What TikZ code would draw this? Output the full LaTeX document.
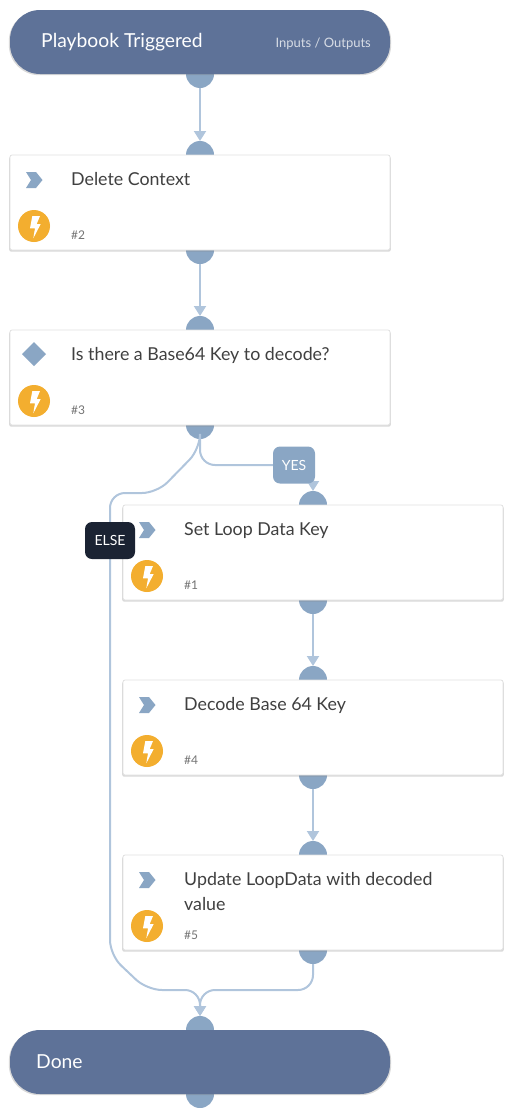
\documentclass[tikz,border=0pt]{standalone}
\usepackage{fontspec}
\setmainfont{Lato}
\usetikzlibrary{positioning,arrows.meta,shadows,backgrounds}

\definecolor{headblue}{RGB}{94,114,152}
\definecolor{portblue}{RGB}{138,166,196}
\definecolor{flowblue}{RGB}{176,197,220}
\definecolor{boltorange}{RGB}{243,174,47}
\definecolor{elsedark}{RGB}{27,35,51}
\definecolor{bodytext}{RGB}{64,64,64}

\tikzset{
  headbox/.style={fill=headblue,rounded corners=30pt,minimum width=380pt,minimum height=64pt,
    inner sep=0pt,outer sep=0pt,drop shadow={shadow xshift=0pt,shadow yshift=-1pt,shadow scale=1.006,opacity=.3}},
  taskbox/.style={fill=white,draw=black!12,line width=.8pt,rounded corners=2pt,minimum width=380pt,minimum height=95pt,
    inner sep=0pt,outer sep=0pt,drop shadow={shadow xshift=0pt,shadow yshift=-1.5pt,shadow scale=1.004,opacity=.3}},
  port/.style={circle,fill=portblue,minimum size=28pt,inner sep=0pt,outer sep=0pt},
  flow/.style={draw=flowblue,line width=2pt,-{Triangle[length=10pt,width=12pt,fill=flowblue]}},
  tasklabel/.style={anchor=base west,inner sep=0pt,text=bodytext,font=\fontsize{17.8}{25}\selectfont,align=left},
  numlabel/.style={anchor=base west,inner sep=0pt,text=black!55,font=\fontsize{12}{14}\selectfont},
  headlabel/.style={anchor=base west,inner sep=0pt,text=white,font=\fontsize{19.3}{22}\selectfont},
  boltmark/.style={circle,fill=boltorange,minimum size=32pt,inner sep=0pt},
  branch/.style={rounded corners=7pt,minimum height=37pt,inner sep=0pt,text=white,font=\fontsize{14}{16}\selectfont},
  pics/chevron/.style={code={\fill[portblue] (-8,-8) -- (2,-8) -- (8.5,0) -- (2,8) -- (-8,8) -- (-3,0) -- cycle;}},
  pics/bolt/.style={code={\fill[white] (-1.7,-10) -- (6,-10) -- (2.7,-2) -- (6.7,-2) -- (-.7,12.3) -- (1,2.3) -- (-4,2.3) -- cycle;}}
}

\begin{document}
\begin{tikzpicture}[x=1pt,y=-1pt]
  \useasboundingbox (0,0) rectangle (513,1119);

  % boxes
  \node[headbox] (start) at (200,42) {};
  \node[taskbox,below=81pt of start] (del) {};
  \node[taskbox,below=80pt of del] (cond) {};
  \node[taskbox,anchor=north west] (set) at (123,505) {};
  \node[taskbox,below=80pt of set] (dec) {};
  \node[taskbox,below=80pt of dec] (upd) {};
  \node[headbox,below=80pt of upd.south -| start] (done) {};

  % ports go behind the boxes
  \begin{scope}[on background layer]
    \foreach \name in {start,del,cond,set,dec,upd,done} {
      \node[port] (\name-out) at (\name.south) {};
    }
    \foreach \name in {del,cond,set,dec,upd,done} {
      \node[port] (\name-in) at (\name.north) {};
    }
  \end{scope}

  % texts and icons
  \node[headlabel] (starttext) at (41,47) {Playbook Triggered};
  \node[anchor=base east,inner sep=0pt,text=white!75!headblue,font=\fontsize{13}{15}\selectfont] (iotext) at (371,47) {Inputs / Outputs};
  \node[headlabel] (donetext) at (36,1068) {Done};

  \foreach \name/\num in {del/2,cond/3,set/1,dec/4,upd/5} {
    \node[boltmark] (bolt-\name) at ([shift={(24,71)}]\name.north west) {};
    \pic at (bolt-\name.center) {bolt};
    \node[numlabel] (num-\name) at ([shift={(61,84)}]\name.north west) {\#\num};
  }
  \foreach \name in {del,set,dec,upd} {
    \pic at ([shift={(24,25)}]\name.north west) {chevron};
  }
  \fill[portblue] ([shift={(24,12)}]cond.north west) -- ++(12,12) -- ++(-12,12) -- ++(-12,-12) -- cycle;

  \node[tasklabel] (deltext) at ([shift={(61,30)}]del.north west) {Delete Context};
  \node[tasklabel] (condtext) at ([shift={(61,30)}]cond.north west) {Is there a Base64 Key to decode?};
  \node[tasklabel] (settext) at ([shift={(61,30)}]set.north west) {Set Loop Data Key};
  \node[tasklabel] (dectext) at ([shift={(61,30)}]dec.north west) {Decode Base 64 Key};
  \node[tasklabel] (updtext) at ([shift={(61,55)}]upd.north west) {Update LoopData with decoded\\value};

  % connectors
  \draw[flow] (start-out.south) -- (del-in.north);
  \draw[flow] (del-out.south) -- (cond-in.north);
  \draw[flow] (set-out.south) -- (dec-in.north);
  \draw[flow] (dec-out.south) -- (upd-in.north);
  \draw[flow,rounded corners=15pt] (cond-out.south) -- (200,465) -- (313,465) -- (set-in.north);
  \draw[flow,rounded corners=15pt] (cond-out.south) -- (200,449) -- (157,493) -- (110,493) -- (110,955) -- (147,990) -- (200,990) -- (done-in.north);
  \draw[flow,rounded corners=15pt] (upd-out.south) -- (313,990) -- (200,990) -- (done-in.north);

  % branch tags
  \node[branch,fill=portblue,minimum width=42pt] (yes) at (294,465) {YES};
  \node[branch,fill=elsedark,minimum width=50pt] (else) at (110,540.5) {ELSE};
\end{tikzpicture}
\end{document}
